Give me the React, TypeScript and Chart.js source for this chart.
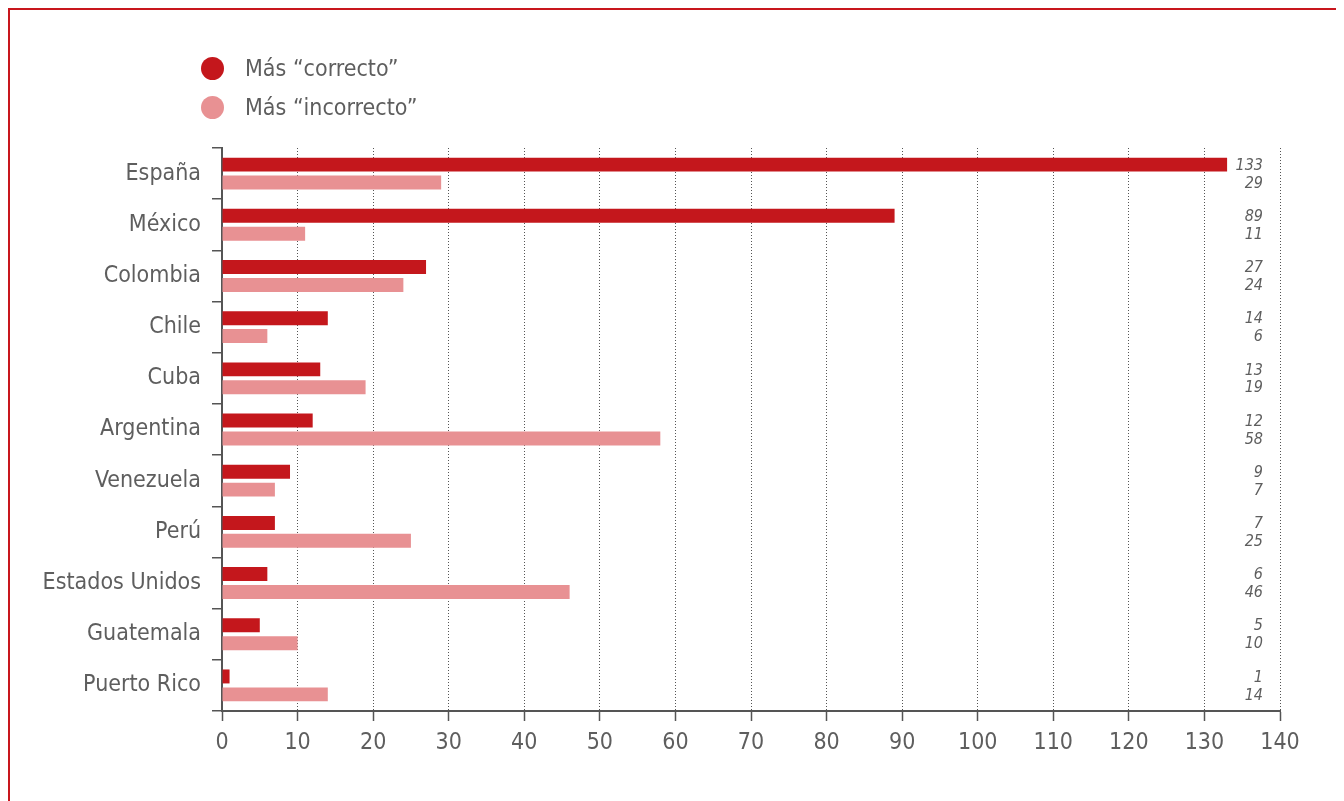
import React, { useEffect, useRef } from "react";
import { Chart, registerables } from "chart.js";

Chart.register(...registerables);

const categories = [
  "España",
  "México",
  "Colombia",
  "Chile",
  "Cuba",
  "Argentina",
  "Venezuela",
  "Perú",
  "Estados Unidos",
  "Guatemala",
  "Puerto Rico",
];
const correcto = [133, 89, 27, 14, 13, 12, 9, 7, 6, 5, 1];
const incorrecto = [29, 11, 24, 6, 19, 58, 7, 25, 46, 10, 14];
const seriesNames = ["Más “correcto”", "Más “incorrecto”"];
const xTicks = [0, 10, 20, 30, 40, 50, 60, 70, 80, 90, 100, 110, 120, 130, 140];

const DARK = "#c4171c";
const LIGHT = "#e89193";
const FRAME = "#c8161d";
const TEXT = "#5e5e5e";
const AXIS = "#555555";
const FONT = "'Liberation Sans Narrow', 'DejaVu Sans Condensed', 'Liberation Sans', sans-serif";

const valueLabels = {
  id: "valueLabels",
  afterDatasetsDraw(chart: any) {
    const ctx = chart.ctx;
    const right = chart.chartArea.right - 17;
    ctx.save();
    ctx.font = `italic 16px ${FONT}`;
    ctx.fillStyle = TEXT;
    ctx.textAlign = "right";
    ctx.textBaseline = "middle";
    chart.data.datasets.forEach((ds: any, di: number) => {
      const meta = chart.getDatasetMeta(di);
      meta.data.forEach((el: any, i: number) => {
        ctx.fillText(String(ds.data[i]), right, el.y + 1);
      });
    });
    ctx.restore();
  },
};

export default function App() {
  const ref = useRef<HTMLCanvasElement | null>(null);

  useEffect(() => {
    if (!ref.current) return;
    const chart = new Chart(ref.current, {
      type: "bar",
      data: {
        labels: categories,
        datasets: [
          {
            label: seriesNames[0],
            data: correcto,
            backgroundColor: DARK,
            categoryPercentage: 0.7,
            barPercentage: 0.78,
          },
          {
            label: seriesNames[1],
            data: incorrecto,
            backgroundColor: LIGHT,
            categoryPercentage: 0.7,
            barPercentage: 0.78,
          },
        ],
      },
      options: {
        indexAxis: "y",
        animation: false,
        responsive: false,
        maintainAspectRatio: false,
        layout: { padding: { left: 0, right: 58, top: 138, bottom: 0 } },
        plugins: {
          legend: { display: false },
          tooltip: { enabled: false },
        },
        scales: {
          x: {
            type: "linear",
            min: 0,
            max: 140,
            afterFit: (s: any) => {
              s.height = 90;
            },
            afterBuildTicks: (s: any) => {
              s.ticks = xTicks.map((v) => ({ value: v }));
            },
            ticks: {
              color: TEXT,
              font: { family: FONT, size: 23 },
              padding: 8,
            },
            grid: {
              color: AXIS,
              lineWidth: 1,
              drawTicks: true,
              tickLength: 10,
              tickColor: AXIS,
              tickWidth: 1.5,
              tickBorderDash: [],
            },
            border: { display: true, color: AXIS, width: 2, dash: [1, 2] },
          },
          y: {
            type: "category",
            offset: true,
            afterFit: (s: any) => {
              s.width = 212;
            },
            ticks: {
              color: TEXT,
              font: { family: FONT, size: 23 },
              padding: 11,
            },
            grid: {
              offset: true,
              drawOnChartArea: false,
              drawTicks: true,
              tickLength: 10,
              color: AXIS,
              lineWidth: 1.5,
            },
            border: { display: true, color: AXIS, width: 2 },
          },
        },
      },
      plugins: [valueLabels],
    });
    return () => chart.destroy();
  }, []);

  const legendRow = (name: string, color: string, top: number) => (
    <div
      style={{
        position: "absolute",
        left: 191,
        top: top - 12,
        height: 24,
        display: "flex",
        alignItems: "center",
      }}
    >
      <span
        style={{
          display: "inline-block",
          width: 23,
          height: 23,
          borderRadius: "50%",
          background: color,
        }}
      />
      <span
        style={{
          marginLeft: 21,
          fontFamily: FONT,
          fontSize: 23,
          color: TEXT,
          whiteSpace: "nowrap",
          lineHeight: "24px",
        }}
      >
        {name}
      </span>
    </div>
  );

  return (
    <div
      style={{
        position: "relative",
        width: 1328,
        height: 791,
        borderTop: `2px solid ${FRAME}`,
        borderLeft: `2px solid ${FRAME}`,
        borderRight: `2px solid ${FRAME}`,
        background: "#fff",
      }}
    >
      <canvas
        ref={ref}
        width={1328}
        height={791}
        style={{ position: "absolute", left: 0, top: 0, width: 1328, height: 791 }}
      />
      {legendRow(seriesNames[0], DARK, 58)}
      {legendRow(seriesNames[1], LIGHT, 97)}
    </div>
  );
}
